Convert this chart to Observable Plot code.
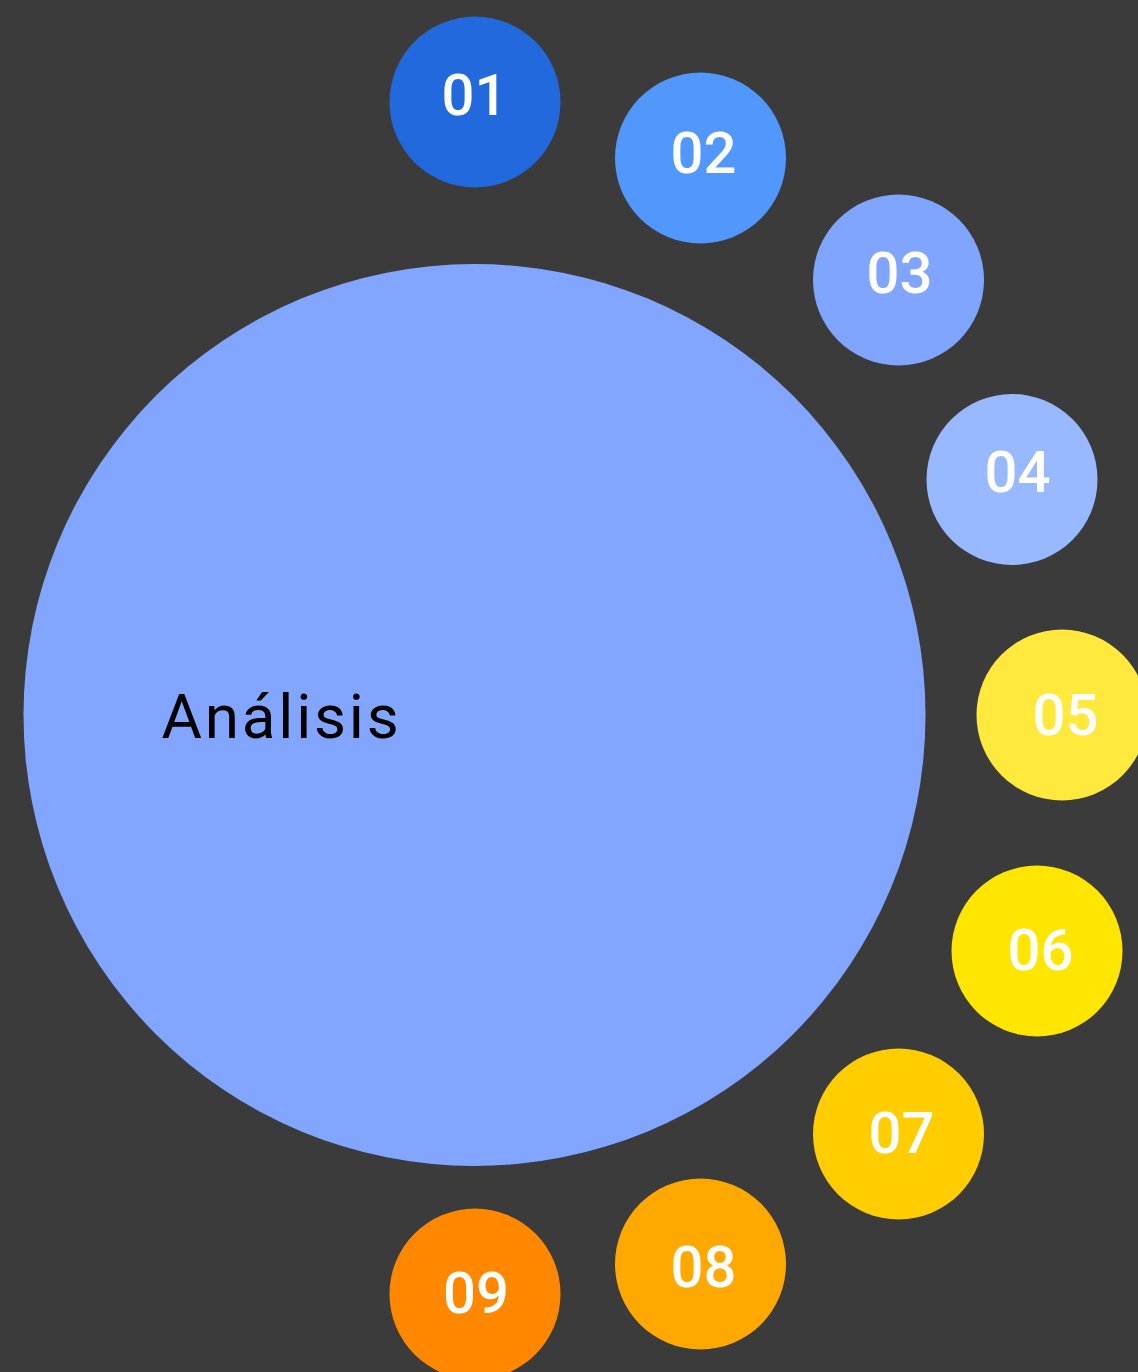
<!DOCTYPE html>
<html>
<head>
<meta charset="utf-8">
<script src="https://cdn.jsdelivr.net/npm/d3@7"></script>
<script src="https://cdn.jsdelivr.net/npm/@observablehq/plot@0.6"></script>
<style>
  html, body { margin: 0; padding: 0; background: #3b3b3b; }
  #chart { width: 1138px; height: 1372px; overflow: hidden; }
  .hub-label text { letter-spacing: 2.8px; }
</style>
</head>
<body>
<div id="chart"></div>
<script>
// Central node
const hubName = ["Análisis"];
const hubX = [474];
const hubY = [714.5];
const hubR = [451];
const hubColor = ["#82a6ff"];
const hubLabelX = [161];
const hubLabelY = [737];

// Satellite nodes
const nodeNames = ["01", "02", "03", "04", "05", "06", "07", "08", "09"];
const nodeX = [474.5, 700, 898, 1011.5, 1061.5, 1036.5, 898, 700, 474.5];
const nodeY = [101.5, 157.5, 279.5, 479, 714.5, 950.5, 1133.5, 1263.5, 1293.5];
const nodeR = [85.5, 85.5, 85.5, 85.5, 85.5, 85.5, 85.5, 85.5, 85.5];
const nodeColors = ["#2369de", "#5298fc", "#80a5ff", "#98b8ff", "#ffe93c", "#ffe600", "#ffcd00", "#ffa800", "#ff8800"];
const labelX = [474, 703, 899, 1017, 1065, 1040, 901, 703, 475.5];
const labelY = [96, 154, 274, 473, 716, 951, 1134, 1268, 1294];

const hub = hubName.map((name, i) => ({name, x: hubX[i], y: hubY[i], r: hubR[i], color: hubColor[i], lx: hubLabelX[i], ly: hubLabelY[i]}));
const nodes = nodeNames.map((name, i) => ({name, x: nodeX[i], y: nodeY[i], r: nodeR[i], color: nodeColors[i], lx: labelX[i], ly: labelY[i]}));

const chart = Plot.plot({
  width: 1138,
  height: 1372,
  margin: 0,
  style: {background: "#3b3b3b", overflow: "hidden"},
  x: {domain: [0, 1138], axis: null},
  y: {domain: [0, 1372], reverse: true, axis: null},
  r: {type: "identity"},
  color: {type: "identity"},
  marks: [
    Plot.dot(hub, {x: "x", y: "y", r: "r", fill: "color", stroke: null}),
    Plot.dot(nodes, {x: "x", y: "y", r: "r", fill: "color", stroke: null}),
    Plot.text(hub, {x: "lx", y: "ly", text: "name", fill: "#000000", fontSize: 62,
      fontFamily: "Roboto", fontWeight: 400, textAnchor: "start", lineAnchor: "bottom",
      className: "hub-label"}),
    Plot.text(nodes, {x: "lx", y: "ly", text: "name", fill: "#ffffff", fontSize: 58,
      fontFamily: "Roboto", fontWeight: 500, textAnchor: "middle", lineAnchor: "middle"})
  ]
});
document.getElementById("chart").appendChild(chart);
</script>
</body>
</html>
